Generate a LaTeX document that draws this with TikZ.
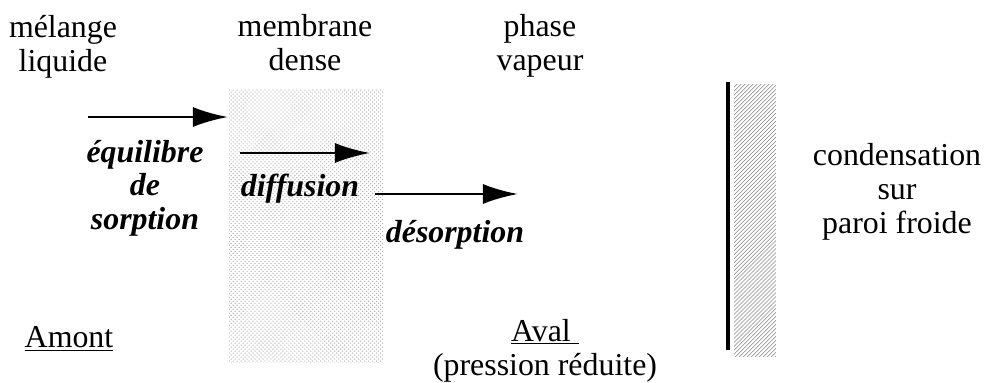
\documentclass[tikz,border=0pt]{standalone}
\usepackage{fontspec}
\setmainfont{Liberation Serif}
\usetikzlibrary{arrows.meta,patterns}

\begin{document}
\begin{tikzpicture}[
  block/.style={align=center, anchor=base, inner sep=0pt, font=\fontsize{24}{25.5}\selectfont},
  stage/.style={block, font=\fontsize{24}{25}\selectfont\bfseries\itshape},
  flow/.style={line width=0.070000cm, -{Latex[length=0.926000cm, width=0.529000cm]}}]
\definecolor{my_dots}{RGB}{170,170,170}
\definecolor{my_hatch}{RGB}{135,135,135}
\useasboundingbox (0.000000, 0.000000) rectangle (26.114000, -10.133000);
\fill[pattern=crosshatch dots, pattern color=my_dots] (6.059000, -2.355000) rectangle (10.133000, -9.604000);
\fill[pattern=north east lines, pattern color=my_hatch] (19.420000, -2.249000) rectangle (20.531000, -9.445000);
\draw[line width=0.080000cm] (19.261000, -2.170000) -- (19.261000, -9.260000);
\node[block] (upstream) at (1.667000, -1.879000) {mélange\\liquide};
\node[block] (membrane_txt) at (8.070000, -1.866000) {membrane\\dense};
\node[block] (vapour) at (14.287000, -1.866000) {phase\\vapeur};
\node[block] (condenser) at (23.733000, -6.165000) {condensation\\sur\\paroi froide};
\node[stage] (sorption) at (3.836000, -6.059000) {équilibre\\de\\sorption};
\node[stage] (diffusion) at (7.937000, -5.212000) {diffusion};
\node[stage] (desorption) at (12.038000, -6.429000) {désorption};
\node[block] (amont) at (1.826000, -9.207000) {\underline{Amont}};
\node[block] (aval) at (14.420000, -9.922000) {\underline{Aval\ }\\(pression réduite)};
\coordinate (sorp_tail) at (2.328000, -3.096000);
\coordinate (sorp_head) at (6.032000, -3.096000);
\coordinate (diff_tail) at (6.350000, -4.048000);
\coordinate (diff_head) at (9.789000, -4.048000);
\coordinate (deso_tail) at (9.922000, -5.133000);
\coordinate (deso_head) at (13.705000, -5.133000);
\draw[flow] (sorp_tail) -- (sorp_head);
\draw[flow] (diff_tail) -- (diff_head);
\draw[flow] (deso_tail) -- (deso_head);
\end{tikzpicture}
\end{document}
